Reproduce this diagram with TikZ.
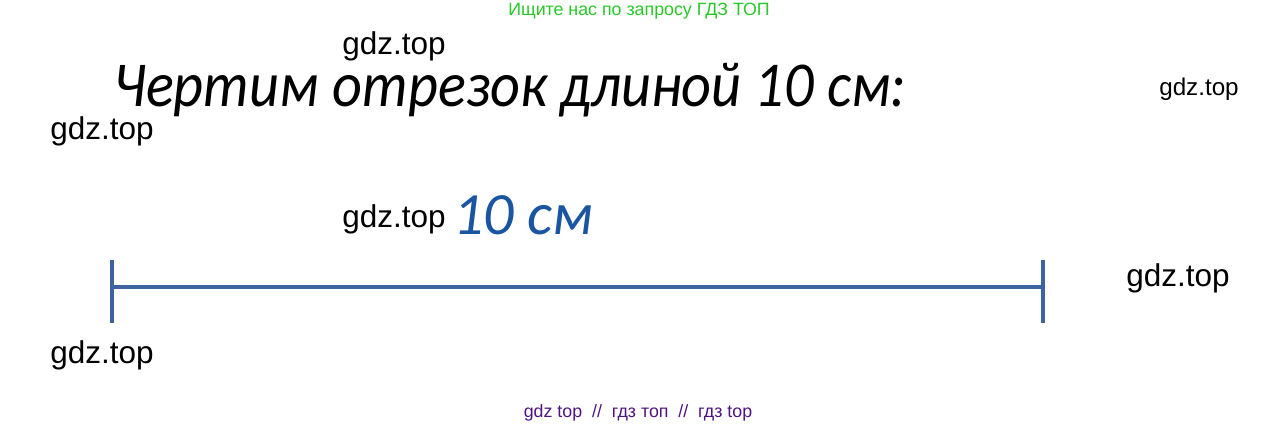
\documentclass[tikz,border=0pt]{standalone}
\usepackage{fontspec}
\setmainfont{Liberation Sans}
\newfontfamily\handfont{Carlito}
\definecolor{adgreen}{RGB}{40,200,40}
\definecolor{adpurple}{RGB}{80,20,130}
\definecolor{segblue}{RGB}{60,100,160}
\definecolor{labblue}{RGB}{25,85,160}
\begin{document}
\begin{tikzpicture}[x=1pt, y=-1pt, thick,
                    wm node/.style={inner sep=0pt,font=\fontsize{31.5}{34}\selectfont},
                    seg line/.style={draw=segblue,line width=4pt}]

  \useasboundingbox (0,0) rectangle (1276,428);

  \node[inner sep=0pt,text=adgreen,font=\fontsize{17.8}{20}\selectfont] (top) at (639,11) {Ищите нас по запросу ГДЗ ТОП};
  \node[wm node] (w1) at (394,46) {gdz.top};
  \node[inner sep=0pt,font=\handfont\itshape\fontsize{64}{70}\selectfont] (title) at (510,90) {\scalebox{0.91}[1]{Чертим отрезок длиной 10 см:}};
  \node[wm node,font=\fontsize{24.2}{27}\selectfont] (w2) at (1199,89) {gdz.top};
  \node[wm node] (w3) at (102,131) {gdz.top};
  \node[wm node] (w4) at (394,219) {gdz.top};
  \node[inner sep=0pt,text=labblue,font=\handfont\itshape\fontsize{60}{66}\selectfont] (len) at (523,215) {10 см};
  \node[wm node] (w5) at (1178,278) {gdz.top};
  \node[wm node] (w6) at (102,355) {gdz.top};
  \node[inner sep=0pt,text=adpurple,font=\fontsize{17.8}{20}\selectfont] (bot) at (638,413) {gdz top~~//~~гдз топ~~//~~гдз top};

  \coordinate (A) at (112,287);
  \coordinate (B) at (1043,287);
  \coordinate (A1) at (112,260);
  \coordinate (A2) at (112,323);
  \coordinate (B1) at (1043,260);
  \coordinate (B2) at (1043,323);

  \path[seg line]
    (A) edge (B)
    (A1) edge (A2)
    (B1) edge (B2);

\end{tikzpicture}
\end{document}
